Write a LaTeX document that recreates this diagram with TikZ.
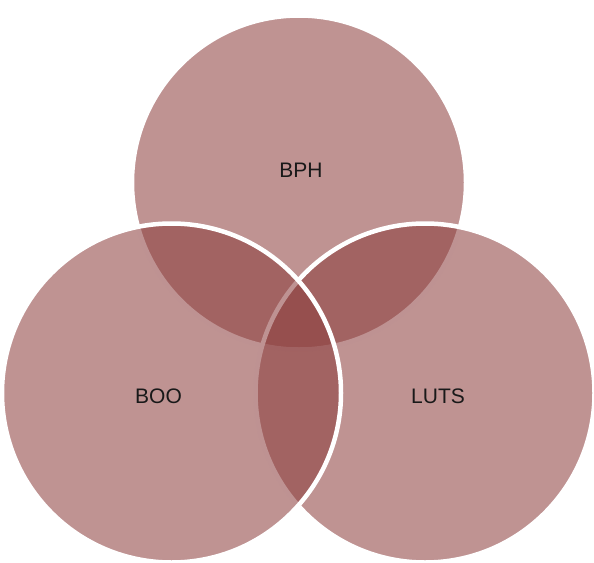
\documentclass[tikz,border=0pt]{standalone}
\usepackage{fontspec}
\setmainfont{Liberation Sans}
\definecolor{setfill}{RGB}{140,62,61}
\definecolor{labelink}{RGB}{25,25,25}
\tikzset{
  setcircle/.style={fill=setfill, fill opacity=0.56, draw=white, draw opacity=1, line width=4.5pt},
  setlabel/.style={font=\fontsize{21}{21}\selectfont, text=labelink, inner sep=0pt}
}
\begin{document}
\begin{tikzpicture}[x=1pt,y=-1pt]
  \useasboundingbox (0,0) rectangle (594,562);
  % three overlapping sets, drawn top, right, left
  \path[setcircle] (299,182.5) circle[radius=167];
  \path[setcircle] (425,393) circle[radius=169.5];
  \path[setcircle] (171.5,393) circle[radius=169.5];
  % set names
  \node[setlabel] (bph) at (301,170) {BPH};
  \node[setlabel] (boo) at (158.5,396) {BOO};
  \node[setlabel] (luts) at (438,396) {LUTS};
\end{tikzpicture}
\end{document}
